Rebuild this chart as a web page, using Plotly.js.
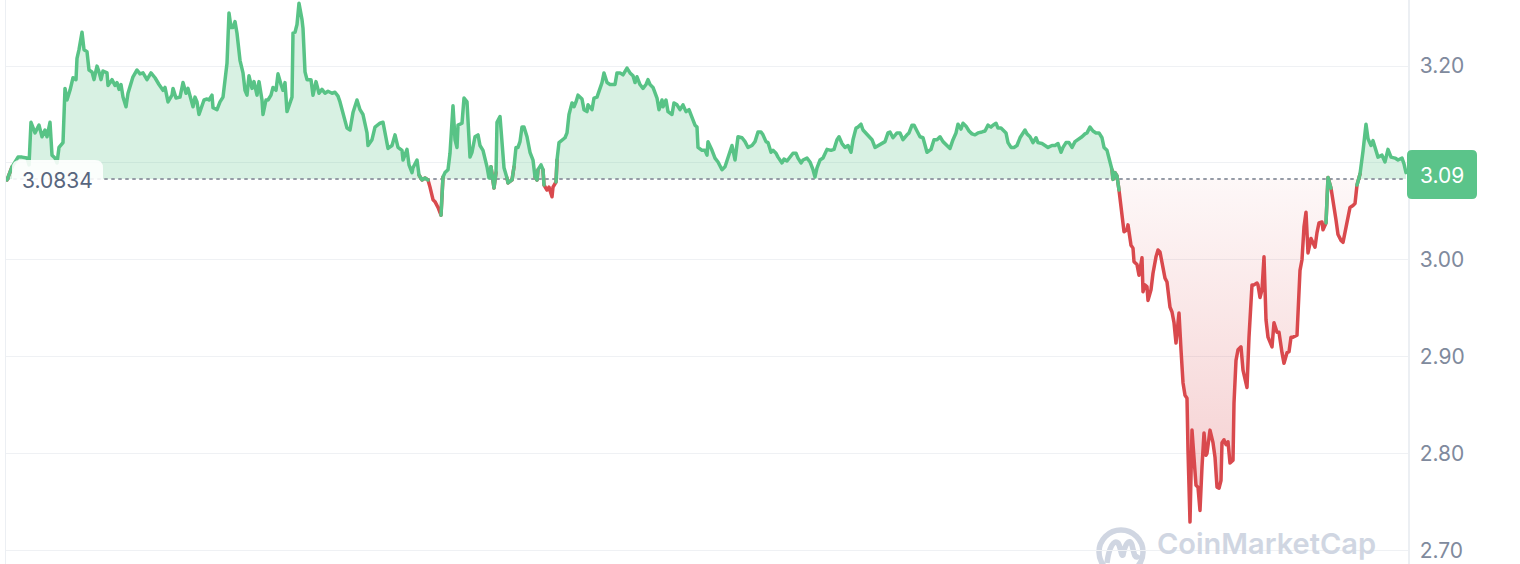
<!DOCTYPE html>
<html>
<head>
<meta charset="utf-8">
<script src="https://cdn.plot.ly/plotly-3.0.1.min.js"></script>
<style>
html,body{margin:0;padding:0;background:#ffffff;}
#chart{width:1520px;height:564px;}
.scatterlayer .js-line{stroke-linejoin:round;stroke-linecap:round;}
</style>
</head>
<body>
<div id="chart"></div>
<script>
// ---- data (minutes since open, price in USD) ----
const minutes = [
0,5,11,15,20,22,24,28,32,35,38,40,43,45,48,50,52,56,58,60,63,66,69,70,72,75,77,80,82,85,87,90,92,94,96,100,101,105,108,110,112,114,116,119,121,126,130,133,136,140,144,148,152,156,158,161,165,166,169,173,176,179,181,184,186,188,190,192,195,197,200,202,205,206,210,213,216,218,220,222,224,226,228,230,233,236,238,240,242,245,247,250,252,255,256,259,261,264,266,269,271,274,276,278,280,283,285,286,288,290,292,295,296,298,300,304,306,309,312,315,318,321,325,328,331,333,336,340,343,346,350,353,356,360,361,365,368,
373,376,378,381,385,388,391,395,396,400,402,405,406,410,412,415,418,421,423,426,428,430,431,434,436,438,441,443,445,446,448,450,451,455,457,460,463,465,468,471,473,476,480,482,484,486,487,489,490,493,495,497,500,501,505,507,509,511,513,515,517,520,523,526,528,530,531,534,536,537,540,542,545,546,549,550,552,555,558,560,562,565,567,569,571,575,577,580,581,585,587,590,593,595,597,600,603,608,610,613,616,620,623,626,628,630,633,636,639,641,643,646,650,652,655,656,659,661,665,667,670,673,676,679,682,685,688,690,691,695,698,700,701,705,708,711,715,718,721,725,728,731,735,
738,741,745,748,751,754,756,759,761,764,766,769,771,775,777,780,783,786,789,791,794,796,800,803,806,808,810,813,816,820,824,827,830,832,835,838,841,844,846,849,851,854,856,860,862,865,868,871,875,878,881,883,886,890,893,896,900,902,905,907,910,913,916,918,920,924,927,930,933,936,940,943,946,949,951,954,956,959,962,965,968,971,975,978,981,984,986,989,991,994,996,999,1001,1004,1007,1010,1013,1016,1018,1020,1023,1026,1029,1031,1035,1038,1041,1045,1048,1051,1054,1056,1059,1062,1065,1068,1071,1075,1078,1080,1083,1086,1089,1092,1095,1097,1100,1102,1105,1106,1108,1110,1112,1115,
1117,1120,1121,1124,1126,1127,1130,1132,1135,1136,1138,1140,1141,1144,1146,1149,1151,1153,1156,1158,1160,1163,1165,1167,1169,1170,1172,1174,1176,1178,1180,1181,1183,1185,1187,1189,1191,1193,1195,1197,1199,1200,1203,1206,1208,1210,1212,1214,1215,1217,1219,1221,1223,1226,1227,1229,1231,1234,1236,1240,1242,1245,1247,1250,1251,1253,1255,1257,1259,1261,1265,1267,1270,1272,1275,1277,1280,1282,1284,1286,1290,1291,1293,1295,1297,1299,1301,1304,1306,1308,1310,1312,1315,1316,1319,1321,1324,1326,1329,1331,1334,1336,1338,1340,1343,1346,1348,1350,1353,1356,1359,1361,1364,1366,1369,1371,1375,1378,1381,1384,1388,1391,1395,1397,1399
];
const prices = [
3.0824,3.096,3.106,3.106,3.105,3.098,3.142,3.131,3.139,3.127,3.134,3.127,3.142,3.108,3.105,3.100,3.116,3.121,3.177,3.165,3.175,3.188,3.186,3.208,3.217,3.235,3.217,3.215,3.196,3.194,3.186,3.200,3.194,3.186,3.195,3.193,3.180,3.186,3.180,3.183,3.176,3.181,3.168,3.158,3.172,3.189,3.196,3.192,3.193,3.186,3.193,3.188,3.181,3.175,3.178,3.163,3.170,3.177,3.167,3.168,3.183,3.172,3.177,3.167,3.158,3.168,3.163,3.150,3.158,3.165,3.166,3.165,3.170,3.157,3.155,3.163,3.168,3.183,3.203,3.255,3.240,3.240,3.246,3.234,3.206,3.193,3.175,3.170,3.190,3.177,3.184,3.170,3.184,3.165,3.150,3.165,3.165,3.170,3.178,3.175,3.192,3.181,3.175,3.183,3.153,3.162,3.168,3.234,3.235,3.243,3.265,3.248,3.239,3.194,3.186,3.186,3.170,3.184,3.172,3.176,3.172,3.174,3.172,3.173,3.169,3.163,3.150,3.136,3.134,3.152,3.165,3.155,3.150,3.131,3.118,3.124,3.137,
3.141,3.142,3.131,3.115,3.118,3.129,3.116,3.113,3.103,3.114,3.098,3.090,3.095,3.103,3.0875,3.0824,3.0844,3.0824,3.075,3.062,3.060,3.056,3.054,3.046,3.0855,3.090,3.093,3.110,3.147,3.159,3.124,3.116,3.139,3.141,3.167,3.163,3.106,3.111,3.127,3.129,3.118,3.113,3.096,3.0844,3.096,3.0803,3.074,3.090,3.142,3.148,3.116,3.095,3.0844,3.0793,3.0824,3.096,3.116,3.116,3.122,3.137,3.137,3.127,3.111,3.103,3.0855,3.0824,3.093,3.098,3.093,3.0772,3.072,3.075,3.065,3.075,3.0803,3.103,3.121,3.124,3.126,3.131,3.150,3.162,3.158,3.163,3.170,3.166,3.155,3.153,3.160,3.155,3.167,3.168,3.177,3.183,3.193,3.183,3.181,3.181,3.193,3.193,3.191,3.198,3.193,3.190,3.183,3.189,3.181,3.177,3.181,3.186,3.181,3.178,3.167,3.155,3.165,3.158,3.165,3.153,3.150,3.162,3.160,3.155,3.160,3.153,3.155,3.147,3.139,3.137,3.116,3.113,3.113,3.108,3.122,3.113,3.105,3.101,3.093,3.096,3.105,3.118,3.103,3.127,3.126,
3.122,3.116,3.118,3.122,3.132,3.132,3.129,3.122,3.121,3.111,3.113,3.110,3.106,3.100,3.104,3.102,3.106,3.110,3.110,3.105,3.100,3.103,3.105,3.101,3.093,3.0855,3.095,3.103,3.105,3.114,3.113,3.114,3.124,3.127,3.120,3.116,3.118,3.111,3.124,3.136,3.137,3.140,3.134,3.129,3.127,3.124,3.116,3.118,3.121,3.122,3.131,3.132,3.126,3.131,3.131,3.124,3.129,3.131,3.139,3.139,3.133,3.127,3.126,3.118,3.111,3.114,3.124,3.124,3.127,3.122,3.118,3.115,3.124,3.131,3.140,3.135,3.141,3.138,3.133,3.130,3.129,3.131,3.132,3.133,3.139,3.137,3.139,3.141,3.136,3.136,3.134,3.131,3.121,3.116,3.116,3.118,3.126,3.131,3.134,3.130,3.127,3.121,3.126,3.121,3.120,3.118,3.116,3.118,3.118,3.120,3.111,3.116,3.121,3.121,3.116,3.122,3.124,3.127,3.130,3.131,3.137,3.133,3.131,3.131,3.126,3.116,3.113,3.106,3.093,3.0830,3.090,3.0865,3.072,3.041,
3.029,3.031,3.036,3.015,3.012,2.998,2.995,2.984,3.002,2.967,2.974,2.972,2.958,2.969,2.986,3.003,3.010,3.008,2.992,2.981,2.977,2.951,2.946,2.935,2.914,2.925,2.945,2.907,2.873,2.860,2.857,2.803,2.729,2.824,2.790,2.767,2.765,2.741,2.786,2.821,2.798,2.800,2.824,2.811,2.796,2.765,2.764,2.772,2.811,2.814,2.809,2.812,2.790,2.793,2.852,2.896,2.907,2.910,2.886,2.868,2.920,2.974,2.974,2.976,2.974,2.961,2.969,3.003,2.938,2.920,2.910,2.935,2.925,2.925,2.904,2.893,2.904,2.905,2.920,2.920,2.922,2.948,2.989,3.000,3.034,3.049,3.007,3.022,3.018,3.013,3.028,3.038,3.039,3.031,3.038,3.0850,3.074,3.062,3.041,3.026,3.020,3.018,3.029,3.041,3.054,3.056,3.058,3.0772,3.0886,3.112,3.140,3.125,3.118,3.123,3.112,3.106,3.108,3.101,3.114,3.106,3.105,3.103,3.105,3.099,3.090
];
const openPrice = 3.0834;
const openLabel = '3.0834';
const lastLabel = '3.09';
const tickValues = [2.7, 2.8, 2.9, 3.0, 3.1, 3.2];
const tickLabels = ['2.70', '2.80', '2.90', '3.00', '', '3.20'];
const watermark = 'CoinMarketCap';

// ---- styling ----
const GREEN = '#58c386';
const RED = '#d9494d';
const FONT = 'Inter, "Noto Sans", sans-serif';
const W = 1520, H = 564, ML = 6, MR = 112;
const PW = W - ML - MR;
const px = v => (v - ML) / PW;      // pixel x -> paper x
const py = v => 1 - v / H;          // pixel y -> paper y
function rrect(x0, y0, x1, y1, r) {
  const X0 = px(x0), X1 = px(x1), Y0 = py(y0), Y1 = py(y1);
  const rx = r / PW, ry = r / H;
  return `M${X0 + rx},${Y0} L${X1 - rx},${Y0} Q${X1},${Y0} ${X1},${Y0 - ry} L${X1},${Y1 + ry} Q${X1},${Y1} ${X1 - rx},${Y1} L${X0 + rx},${Y1} Q${X0},${Y1} ${X0},${Y1 + ry} L${X0},${Y0 - ry} Q${X0},${Y0} ${X0 + rx},${Y0} Z`;
}
function pxPath(str) {
  return str.replace(/(-?\d+(?:\.\d+)?),(-?\d+(?:\.\d+)?)/g, (m, a, b) => px(+a) + ',' + py(+b));
}

const n = prices.length;
const base = prices.map(() => openPrice);
const up = i => i >= 0 && i < n && prices[i] >= openPrice;
const dn = i => i >= 0 && i < n && prices[i] < openPrice;
const greenLine = prices.map((p, i) => (up(i) || up(i - 1) || up(i + 1)) ? p : null);
const redLine = prices.map((p, i) => (dn(i) || dn(i - 1) || dn(i + 1)) ? p : null);
const greenArea = prices.map(p => Math.max(p, openPrice));
const redArea = prices.map(p => Math.min(p, openPrice));

const traces = [
  {x: minutes, y: base, mode: 'lines', line: {width: 0}, hoverinfo: 'skip'},
  {x: minutes, y: greenArea, mode: 'lines', line: {width: 0}, fill: 'tonexty',
   fillcolor: 'rgba(88,195,134,0.23)', hoverinfo: 'skip'},
  {x: minutes, y: base, mode: 'lines', line: {width: 0}, hoverinfo: 'skip'},
  {x: minutes, y: redArea, mode: 'lines', line: {width: 0}, fill: 'tonexty',
   fillgradient: {type: 'vertical', start: Math.min(...prices), stop: openPrice,
     colorscale: [[0, 'rgba(217,73,77,0.28)'], [1, 'rgba(217,73,77,0.04)']]},
   hoverinfo: 'skip'},
  {x: [minutes[0], minutes[n - 1]], y: [openPrice, openPrice], mode: 'lines',
   line: {width: 2, color: '#959ba6', dash: '2px,5px'}, hoverinfo: 'skip'},
  {x: minutes, y: redLine, mode: 'lines', line: {width: 3.5, color: RED}, connectgaps: false},
  {x: minutes, y: greenLine, mode: 'lines', line: {width: 3.5, color: GREEN}, connectgaps: false}
];

const layout = {
  width: W, height: H,
  margin: {l: ML, r: MR, t: 0, b: 0, pad: 0},
  paper_bgcolor: '#ffffff', plot_bgcolor: '#ffffff',
  showlegend: false,
  font: {family: FONT},
  xaxis: {range: [-1, 1401], showgrid: false, zeroline: false, showticklabels: false,
          showline: false, ticks: '', fixedrange: true},
  yaxis: {range: [2.6857, 3.2683], side: 'right', tickvals: tickValues, ticktext: tickLabels,
          showgrid: true, gridcolor: '#eff1f4', gridwidth: 1, zeroline: false,
          showline: true, mirror: true, linecolor: '#eceff3', linewidth: 1.5,
          ticks: '', ticklabelstandoff: 6,
          tickfont: {family: FONT, size: 21, color: '#808a9d'},
          fixedrange: true},
  shapes: [
    // open price label box
    {type: 'path', xref: 'paper', yref: 'paper', path: rrect(12, 160, 103, 198, 8),
     fillcolor: 'rgba(255,255,255,0.88)', line: {width: 0}, layer: 'above'},
    // last price badge
    {type: 'path', xref: 'paper', yref: 'paper', path: rrect(1407, 150, 1477, 199, 5),
     fillcolor: '#5bc48a', line: {width: 0}, layer: 'above'},
    // watermark logo
    {type: 'circle', xref: 'paper', yref: 'paper', x0: px(1099), x1: px(1143), y0: py(530), y1: py(574),
     line: {color: '#d0d6e2', width: 5.5}, fillcolor: 'rgba(0,0,0,0)', layer: 'below'},
    {type: 'path', xref: 'paper', yref: 'paper',
     path: pxPath('M1107,563 C1109,547 1114,539 1118,543 C1121,547 1121,557 1123,555 C1125,545 1129,537 1132,545 C1134,553 1135,561 1139,555'),
     line: {color: '#d0d6e2', width: 5.5}, layer: 'below'}
  ],
  annotations: [
    {xref: 'paper', yref: 'paper', x: px(57.5), y: py(180.5), text: openLabel, showarrow: false,
     xanchor: 'center', yanchor: 'middle', font: {family: FONT, size: 21, color: '#58667e'}},
    {xref: 'paper', yref: 'paper', x: px(1442), y: py(175), text: lastLabel, showarrow: false,
     xanchor: 'center', yanchor: 'middle', font: {family: FONT, size: 21, color: '#ffffff'}},
    {xref: 'paper', yref: 'paper', x: px(1155), y: py(563), text: watermark, showarrow: false,
     xanchor: 'left', yanchor: 'bottom', font: {family: FONT, size: 29, weight: 600, color: '#d0d6e2'}}
  ]
};

Plotly.newPlot('chart', traces, layout, {displayModeBar: false, staticPlot: true});
</script>
</body>
</html>
